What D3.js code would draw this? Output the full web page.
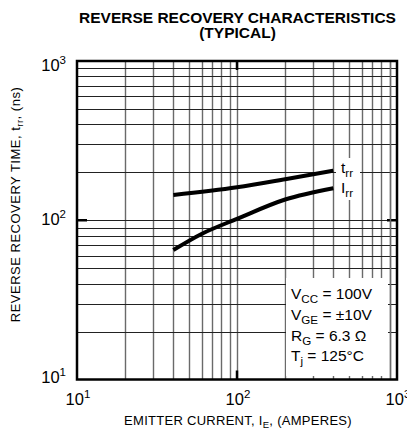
<!DOCTYPE html>
<html><head><meta charset="utf-8">
<script src="https://cdn.jsdelivr.net/npm/d3@7"></script>
<style>body{margin:0;background:#fff}</style>
</head><body>
<svg id="c" width="407" height="432" xmlns="http://www.w3.org/2000/svg"></svg>
<script>
// ---- data ----
const irrCurrent = [40, 60, 100, 200, 400];
const irrValues  = [65, 82, 102, 135, 159];
const trrCurrent = [40, 100, 200, 400];
const trrValues  = [144, 161, 181, 205];
const xDecades = [10, 100, 1000];
const yDecades = [10, 100, 1000];
const decadeExponents = ["1", "2", "3"];
const legendLines = [
  ["V", "CC", " = 100V"],
  ["V", "GE", " = \u00b110V"],
  ["R", "G", " = 6.3 \u03a9"],
  ["T", "j", " = 125\u00b0C"]
];
const titleLines = ["REVERSE RECOVERY CHARACTERISTICS", "(TYPICAL)"];

// ---- layout ----
const L = 77, R = 397, T = 61, B = 379.5;
const svg = d3.select("#c");
const font = "'Liberation Sans', Arial, Helvetica, sans-serif";
const x = d3.scaleLog().domain([10, 1000]).range([L, R]);
const y = d3.scaleLog().domain([10, 1000]).range([B, T]);

const minor = [];
[10, 100].forEach(d => { for (let k = 2; k <= 9; k++) minor.push(d * k); });
const gridVals = minor.concat([100]);

// grid
const g = svg.append("g");
g.selectAll("line.v").data(gridVals).join("line")
  .attr("x1", d => Math.round(x(d)) + 0.5).attr("x2", d => Math.round(x(d)) + 0.5)
  .attr("y1", T).attr("y2", B)
  .attr("stroke", "#6a6a6a").attr("stroke-width", 1.4);
g.selectAll("line.h").data(gridVals).join("line")
  .attr("y1", d => Math.round(y(d)) + 0.5).attr("y2", d => Math.round(y(d)) + 0.5)
  .attr("x1", L).attr("x2", R)
  .attr("stroke", "#222").attr("stroke-width", 1.1);

// decade ticks (thick)
const tk = svg.append("g").attr("stroke", "#000").attr("stroke-width", 2.5);
tk.append("line").attr("x1", x(100)).attr("x2", x(100)).attr("y1", T).attr("y2", T + 9);
tk.append("line").attr("x1", x(100)).attr("x2", x(100)).attr("y1", B).attr("y2", B - 9);
tk.append("line").attr("y1", y(100)).attr("y2", y(100)).attr("x1", L).attr("x2", L + 10);
tk.append("line").attr("y1", y(100)).attr("y2", y(100)).attr("x1", R).attr("x2", R - 10);

// legend box (white) over grid
svg.append("rect").attr("x", 286).attr("y", 278).attr("width", 102).attr("height", 98).attr("fill", "#fff");
// 900 line passes through
svg.append("line").attr("x1", Math.round(x(900)) + 0.5).attr("x2", Math.round(x(900)) + 0.5)
  .attr("y1", T).attr("y2", B).attr("stroke", "#6a6a6a").attr("stroke-width", 1.4);

// curve label backgrounds
svg.append("rect").attr("x", 336).attr("y", 158).attr("width", 24).attr("height", 42).attr("fill", "#fff");

// curves
const line = d3.line().x(d => x(d[0])).y(d => y(d[1])).curve(d3.curveMonotoneX);
svg.append("path").datum(trrCurrent.map((c, i) => [c, trrValues[i]]))
  .attr("d", line).attr("fill", "none").attr("stroke", "#000").attr("stroke-width", 4);
svg.append("path").datum(irrCurrent.map((c, i) => [c, irrValues[i]]))
  .attr("d", line).attr("fill", "none").attr("stroke", "#000").attr("stroke-width", 4);

// border
svg.append("rect").attr("x", L).attr("y", T).attr("width", R - L).attr("height", B - T)
  .attr("fill", "none").attr("stroke", "#000").attr("stroke-width", 2.5);

// curve labels
function subText(xp, yp, main, sub, rest, size) {
  const t = svg.append("text").attr("x", xp).attr("y", yp)
    .attr("font-family", font).attr("font-size", size).attr("fill", "#000");
  t.append("tspan").text(main);
  t.append("tspan").attr("font-size", size * 0.75).attr("dy", 4).text(sub);
  if (rest) t.append("tspan").attr("dy", -4).text(rest);
  return t;
}
subText(341, 173, "t", "rr", null, 15.5);
subText(341, 193, "I", "rr", null, 15.5);

// legend text
legendLines.forEach((l, i) => subText(291, 299 + i * 20.8, l[0], l[1], l[2], 15.5));

// tick labels
function powText(xp, yp, exp, anchor) {
  const t = svg.append("text").attr("x", xp).attr("y", yp).attr("text-anchor", anchor)
    .attr("font-family", font).attr("font-size", 16.5).attr("fill", "#000");
  t.append("tspan").text("10");
  t.append("tspan").attr("font-size", 11.5).attr("dy", -7).text(exp);
}
const yLabelY = [383, 225, 71];
yDecades.forEach((d, i) => powText(66, yLabelY[i], decadeExponents[i], "end"));
xDecades.forEach((d, i) => powText(x(d) + 1, 405, decadeExponents[i], "middle"));

// axis titles
const xt = svg.append("text").attr("x", 238).attr("y", 425).attr("text-anchor", "middle")
  .attr("font-family", font).attr("font-size", 13).attr("letter-spacing", 0.28).attr("fill", "#000");
xt.append("tspan").text("EMITTER CURRENT, I");
xt.append("tspan").attr("font-size", 9.5).attr("dy", 3).text("E");
xt.append("tspan").attr("dy", -3).text(", (AMPERES)");

const yt = svg.append("text").attr("transform", "translate(20,204.5) rotate(-90)").attr("text-anchor", "middle")
  .attr("font-family", font).attr("font-size", 13).attr("letter-spacing", 0.5).attr("fill", "#000");
yt.append("tspan").text("REVERSE RECOVERY TIME, t");
yt.append("tspan").attr("font-size", 9.5).attr("dy", 3).text("rr");
yt.append("tspan").attr("dy", -3).text(", (ns)");

// title
titleLines.forEach((s, i) => svg.append("text").attr("x", 237.5).attr("y", 22.5 + i * 15.5)
  .attr("text-anchor", "middle").attr("font-family", font).attr("font-weight", "bold")
  .attr("font-size", 15.5).attr("fill", "#000").text(s));
</script>
</body></html>
